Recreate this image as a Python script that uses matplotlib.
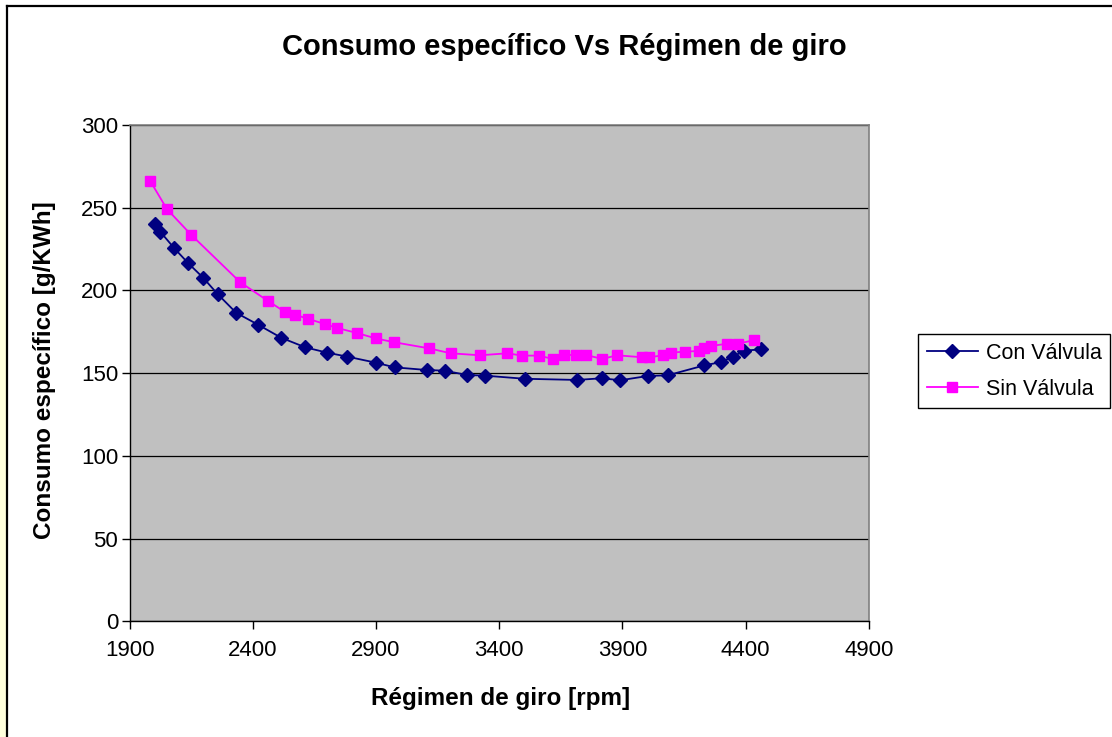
import matplotlib
matplotlib.use("Agg")
import matplotlib.pyplot as plt
import numpy as np
from matplotlib.lines import Line2D
from matplotlib.colors import LinearSegmentedColormap

plt.rcParams['font.family'] = ['Liberation Sans', 'DejaVu Sans']

# regimen de giro [rpm] y consumo especifico [g/KWh]
rpm_con = [2004, 2024, 2081, 2138, 2198, 2257, 2332, 2421, 2515, 2613,
           2701, 2783, 2900, 2976, 3106, 3179, 3268, 3341, 3504, 3715,
           3817, 3892, 4003, 4084, 4233, 4300, 4350, 4394, 4464]
consumo_con = [240.2, 235.5, 225.5, 216.4, 207.7, 197.8, 186.5, 179.3, 171.4, 165.6,
               162.4, 160.0, 156.3, 153.5, 151.9, 151.5, 148.9, 148.5, 146.6, 145.9,
               146.9, 145.7, 148.3, 148.7, 154.7, 156.7, 160.0, 163.6, 164.4]

rpm_sin = [1984, 2051, 2149, 2349, 2460, 2529, 2572, 2623, 2692, 2742,
           2822, 2899, 2973, 3115, 3203, 3322, 3433, 3494, 3560, 3618,
           3664, 3711, 3751, 3819, 3878, 3981, 4009, 4066, 4096, 4155,
           4212, 4231, 4259, 4326, 4369, 4434]
consumo_sin = [266.0, 249.2, 233.7, 204.9, 193.8, 187.1, 185.3, 182.9, 179.7, 177.3,
               174.3, 171.0, 168.7, 165.0, 162.0, 160.8, 162.0, 160.6, 160.6, 158.6,
               161.0, 161.0, 161.0, 158.6, 160.8, 159.6, 159.6, 160.8, 162.4, 163.0,
               163.4, 165.4, 166.4, 167.8, 167.8, 169.9]

W, H = 1112, 737
fig = plt.figure(figsize=(W / 100, H / 100), dpi=100)

# franja amarilla en el borde izquierdo
strip = fig.add_axes([0, 0, 6 / W, 1])
grad = np.linspace(0, 1, 256).reshape(-1, 1)
cm = LinearSegmentedColormap.from_list('strip', ['#FFFFDC', '#FFFFDC', '#FFFFFF'])
strip.imshow(grad, aspect='auto', cmap=cm, origin='lower', extent=[0, 1, 0, 1])
strip.axis('off')

# marco exterior del grafico
x0, y0 = 6.5 / W, 1 - 5.5 / H
fig.add_artist(Line2D([x0, x0], [0, y0], transform=fig.transFigure, color='black', lw=1.6))
fig.add_artist(Line2D([x0, 1], [y0, y0], transform=fig.transFigure, color='black', lw=1.6))

ax = fig.add_axes([129.7 / W, 1 - 621.3 / H, 739 / W, 496.3 / H])
ax.set_facecolor('#C0C0C0')

ax.set_xlim(1900, 4900)
ax.set_ylim(0, 300)
ax.set_xticks(np.arange(1900, 4901, 500))
ax.set_yticks(np.arange(0, 301, 50))
ax.yaxis.grid(True, color='black', lw=0.9)
ax.set_axisbelow(True)

ax.plot(rpm_con, consumo_con, color='#000080', lw=1.3, marker='D', markersize=7,
        markerfacecolor='#000080', markeredgecolor='#000080', label='Con Válvula')
ax.plot(rpm_sin, consumo_sin, color='#FF00FF', lw=1.3, marker='s', markersize=7,
        markerfacecolor='#FF00FF', markeredgecolor='#FF00FF', label='Sin Válvula')

for s in ['top', 'right']:
    ax.spines[s].set_color('#808080')
    ax.spines[s].set_linewidth(1.2)
for s in ['left', 'bottom']:
    ax.spines[s].set_color('black')
    ax.spines[s].set_linewidth(1.0)

ax.tick_params(axis='both', direction='out', length=5.8, width=1, labelsize=16,
               colors='black')
ax.tick_params(axis='y', pad=2.5)
ax.tick_params(axis='x', pad=8)

fig.text(564 / W, 1 - 47 / H, 'Consumo específico Vs Régimen de giro',
         ha='center', va='center', fontsize=21, fontweight='bold')
fig.text(501 / W, 1 - 698 / H, 'Régimen de giro [rpm]',
         ha='center', va='center', fontsize=17.5, fontweight='bold')
fig.text(45 / W, 1 - 370 / H, 'Consumo específico [g/KWh]',
         ha='center', va='center', fontsize=17.5, fontweight='bold', rotation=90)

leg = fig.legend(loc='upper left', bbox_to_anchor=(918 / W, 1 - 334 / H),
                 bbox_transform=fig.transFigure, fontsize=15.5, frameon=True,
                 fancybox=False, edgecolor='black', framealpha=1,
                 handlelength=2.4, handletextpad=0.35, borderpad=0.4,
                 labelspacing=0.7, borderaxespad=0, handleheight=0.7)
leg.get_frame().set_linewidth(1.0)

fig.savefig('out.png', dpi=100, facecolor='white')
